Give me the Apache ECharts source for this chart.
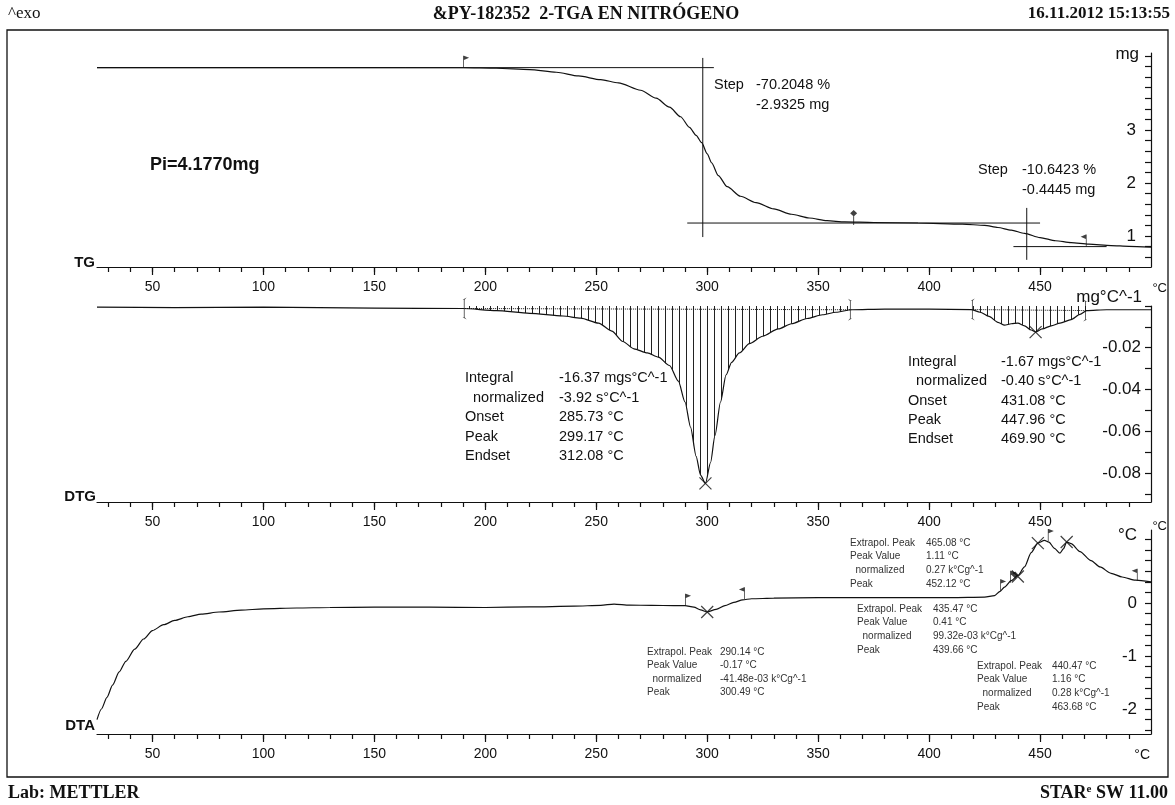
<!DOCTYPE html>
<html><head><meta charset="utf-8">
<script src="https://cdn.jsdelivr.net/npm/echarts@6/dist/echarts.min.js"></script>
<style>html,body{margin:0;padding:0;background:#fff}#c{width:1175px;height:805px}</style>
</head><body><div id="c"></div><script>
// ---------- axes / ticks ----------
const xMajorTicks = [50,100,150,200,250,300,350,400,450];
const xMinorTicks = [30,40,50,60,70,80,90,100,110,120,130,140,150,160,170,180,190,200,210,220,230,240,250,260,270,280,290,300,310,320,330,340,350,360,370,380,390,400,410,420,430,440,450,460,470,480,490];
const tgTicks = [0.6,0.8,1,1.2,1.4,1.6,1.8,2,2.2,2.4,2.6,2.8,3,3.2,3.4,3.6,3.8,4,4.2,4.4];
const tgLabels = [1,2,3];
const dtgTicks = [0,-0.01,-0.02,-0.03,-0.04,-0.05,-0.06,-0.07,-0.08,-0.09];
const dtgLabels = [-0.02,-0.04,-0.06,-0.08];
const dtaTicks = [-2.4,-2.2,-2,-1.8,-1.6,-1.4,-1.2,-1,-0.8,-0.6,-0.4,-0.2,0,0.2,0.4,0.6,0.8,1,1.2];
const dtaLabels = [-2,-1,0];

// ---------- TG (mg) ----------
const tgT  = [25,100,190,205,220,232,242,252,260,270,277,283,288,292,295,297.5,300,302,305,309,315,322,330,338,346,354,362,375,395,415,425,431,437,443,450,457,464,472,482,490,500];
const tgMg = [4.177,4.177,4.175,4.165,4.14,4.09,4.02,3.95,3.89,3.75,3.60,3.43,3.25,3.05,2.90,2.76,2.55,2.38,2.14,1.93,1.75,1.63,1.51,1.41,1.34,1.29,1.265,1.255,1.245,1.225,1.20,1.16,1.11,1.05,0.97,0.91,0.875,0.845,0.82,0.805,0.79];
const tgTangents = [
  [[25,4.177],[303,4.177]],
  [[298,4.36],[298,0.98]],
  [[291,1.2445],[450,1.2445]],
  [[444,1.53],[444,0.55]],
  [[438,0.80],[480,0.80]]
];
const tgFlags = [[190,4.177]];
const tgPins = [[366,1.255]];
const tgFlagsL = [[471,0.80]];

// ---------- DTG (mg/°C) ----------
const dtgT = [25,60,100,150,190,205,220,235,243,251,257,262,267,273,278,283,287,290,292.5,295,297,299.2,301.5,303.5,306,308.5,311,314.5,319,325,332,338,345,352,358,365,380,400,419,423,427,431,434,437,440,443,446,448,451,455,459,464,468,471,480,490,500];
const dtgV = [-0.0005,-0.0008,-0.0005,-0.001,-0.0012,-0.0022,-0.0035,-0.0048,-0.0058,-0.0082,-0.012,-0.017,-0.0205,-0.0225,-0.0245,-0.0285,-0.036,-0.046,-0.058,-0.072,-0.081,-0.085,-0.075,-0.062,-0.046,-0.033,-0.027,-0.0225,-0.018,-0.0145,-0.011,-0.0085,-0.006,-0.0042,-0.003,-0.0018,-0.0015,-0.0015,-0.0017,-0.003,-0.005,-0.0078,-0.0092,-0.0085,-0.0082,-0.0095,-0.0115,-0.0125,-0.011,-0.0095,-0.0082,-0.0065,-0.004,-0.0022,-0.0018,-0.0018,-0.0018];
const dtgRanges = [[190,365],[419,471]];
const dtgPeaks = [[299.2,-0.085],[448,-0.0125]];
const dtgBrackets = [[190,-0.0012,'l'],[365,-0.0018,'r'],[419,-0.0017,'l'],[471,-0.0022,'r']];

// ---------- DTA (°C) ----------
const dtaT = [25,27,29.5,32,35,38,42,46,50,55,60,66,72,80,90,100,115,130,150,175,200,220,240,252,258,265,275,285,290,294,297,300,304,308,312,316,320,330,350,380,410,425,429.5,432,434,437,440,443,446,449,452,454,456.5,459,460.5,462,464,468,473,477,482,487,493,500];
const dtaV = [-2.2,-2.0,-1.78,-1.55,-1.3,-1.1,-0.87,-0.68,-0.52,-0.41,-0.33,-0.26,-0.21,-0.17,-0.135,-0.11,-0.095,-0.085,-0.08,-0.08,-0.085,-0.075,-0.06,-0.045,-0.02,-0.04,-0.045,-0.05,-0.05,-0.08,-0.13,-0.17,-0.12,-0.05,0.01,0.06,0.08,0.09,0.1,0.1,0.1,0.11,0.14,0.22,0.3,0.42,0.52,0.68,0.95,1.13,1.18,1.15,1.03,0.94,1.02,1.15,1.12,0.97,0.8,0.68,0.56,0.49,0.43,0.40];
const dtaPeaks = [[300,-0.17],[440,0.5],[449,1.13],[462,1.15]];
const dtaFlags = [[290,-0.05],[432,0.22],[436.5,0.38],[453.5,1.17]];
const dtaFlagsL = [[317,0.07],[494,0.42]];
const dtaDiamonds = [[438.8,0.47]];

const FONT = '"Liberation Sans", Arial, sans-serif';
const SERIF = '"Liberation Serif", "Times New Roman", serif';
const BLK = '#111';

function zip(a,b){return a.map((v,i)=>[v,b[i]]);}
const dtgPts = zip(dtgT,dtgV);

// hatch pattern
const pc = document.createElement('canvas'); pc.width = 7; pc.height = 4;
const pctx = pc.getContext('2d'); pctx.fillStyle = '#222'; pctx.fillRect(0,0,1,4);

const grids = [
  {left:97, right:24, top:53, height:214},
  {left:97, right:24, top:306, height:196},
  {left:97, right:24, top:530, height:204}
];
const xAxes = [], yAxes = [];
grids.forEach((g,i)=>{
  xAxes.push({gridIndex:i, type:'value', min:25, max:500, position:'bottom',
    axisLine:{show:true, onZero:false, lineStyle:{color:BLK, width:1.2}},
    axisTick:{show:true, length:5, customValues:xMinorTicks, lineStyle:{color:BLK, width:1.2}},
    axisLabel:{show:true, customValues:xMajorTicks, color:BLK, fontFamily:FONT, fontSize:14, margin:13},
    splitLine:{show:false}});
  xAxes.push({gridIndex:i, type:'value', min:25, max:500, position:'bottom',
    axisLine:{show:false, onZero:false},
    axisTick:{show:true, length:8, customValues:xMajorTicks, lineStyle:{color:BLK, width:1.2}},
    axisLabel:{show:false}, splitLine:{show:false}});
});
const yCfg = [
  {min:0.415, max:4.453, ticks:tgTicks, labels:tgLabels, fmt:v=>String(v), margin:15},
  {min:-0.0939, max:0, ticks:dtgTicks, labels:dtgLabels, fmt:v=>v.toFixed(2), margin:10},
  {min:-2.472, max:1.377, ticks:dtaTicks, labels:dtaLabels, fmt:v=>String(v), margin:14}
];
yCfg.forEach((c,i)=>{
  yAxes.push({gridIndex:i, type:'value', position:'right', min:c.min, max:c.max,
    axisLine:{show:true, onZero:false, lineStyle:{color:BLK, width:1.2}},
    axisTick:{show:true, inside:true, length:6, customValues:c.ticks, lineStyle:{color:BLK, width:1.2}},
    axisLabel:{show:true, inside:true, customValues:c.labels, formatter:c.fmt, color:BLK, fontFamily:FONT, fontSize:17, margin:c.margin},
    splitLine:{show:false}});
});

const lineBase = {type:'line', symbol:'none', silent:true, animation:false, smooth:0.25, smoothMonotone:'x', lineStyle:{color:BLK, width:1.2}};
const series = [];
// TG
series.push(Object.assign({}, lineBase, {xAxisIndex:0, yAxisIndex:0, data:zip(tgT,tgMg)}));
tgTangents.forEach(seg=>series.push(Object.assign({}, lineBase, {smooth:false, xAxisIndex:0, yAxisIndex:0, data:seg, lineStyle:{color:BLK, width:1}})));
// DTG hatching
dtgRanges.forEach(r=>{
  series.push({type:'line', symbol:'none', silent:true, animation:false, smooth:0.25, smoothMonotone:'x',
    xAxisIndex:2, yAxisIndex:1, data:dtgPts.filter(p=>p[0]>=r[0]&&p[0]<=r[1]),
    lineStyle:{width:0, opacity:0}, areaStyle:{origin:'end', opacity:1, color:{image:pc, repeat:'repeat'}}});
  series.push(Object.assign({}, lineBase, {smooth:false, xAxisIndex:2, yAxisIndex:1,
    data:[[r[0], dtgPts.find(p=>p[0]===r[0])[1]],[r[1], dtgPts.find(p=>p[0]===r[1])[1]]],
    lineStyle:{color:BLK, width:1, type:'dotted'}}));
});
series.push(Object.assign({}, lineBase, {xAxisIndex:2, yAxisIndex:1, data:dtgPts}));
// DTA
series.push(Object.assign({}, lineBase, {xAxisIndex:4, yAxisIndex:2, data:zip(dtaT,dtaV)}));

const X_SYM = 'path://M0,0L10,10M10,0L0,10';
const FLAG_R = 'path://M0,0L0,14L0.8,14L0.8,5L6,2.5L0.8,0Z';
const FLAG_L = 'path://M6,0L6,14L5.2,14L5.2,5L0,2.5L5.2,0Z';
function scatter(xi, yi, data, sym, size, offset, style){
  return {type:'scatter', silent:true, animation:false, xAxisIndex:xi, yAxisIndex:yi, data:data, symbol:sym, symbolSize:size, symbolOffset:offset, z:5,
    itemStyle:style || {color:BLK}};
}
const xStyle = {color:'rgba(0,0,0,0)', borderColor:BLK, borderWidth:1.2};
series.push(scatter(2,1,dtgPeaks,X_SYM,[12,12],[0,0],xStyle));
series.push(scatter(4,2,dtaPeaks,X_SYM,[12,12],[0,0],xStyle));
series.push(scatter(0,0,tgFlags,FLAG_R,[6,12],[3,-6]));
series.push(scatter(0,0,tgFlagsL,FLAG_L,[6,12],[-3,-6]));
series.push(scatter(0,0,tgPins,'path://M3,0L6,3L3,6L0,3ZM2.6,3L3.4,3L3.4,14L2.6,14Z',[7,15],[0,-5]));
series.push(scatter(4,2,dtaFlags,FLAG_R,[6,12],[3,-6]));
series.push(scatter(4,2,dtaFlagsL,FLAG_L,[6,12],[-3,-6]));
series.push(scatter(4,2,dtaDiamonds,'path://M3,0L6,3L3,6L0,3Z',[7,7],[0,-3]));
series.push(scatter(2,1,dtgBrackets.filter(b=>b[2]==='l').map(b=>[b[0],b[1]]),'path://M3,0L0,2L0.9,2L0.9,18L0,18L3,20L1.5,18L1.5,2Z',[4,22],[1.5,0]));
series.push(scatter(2,1,dtgBrackets.filter(b=>b[2]==='r').map(b=>[b[0],b[1]]),'path://M0,0L3,2L2.1,2L2.1,18L3,18L0,20L1.5,18L1.5,2Z',[4,22],[-1.5,0]));

// ---------- texts ----------
const G = [];
function txt(x,y,t,opt){
  opt = opt||{};
  G.push({type:'text', x:x, y:y, silent:true, z:10, style:{text:t, font:opt.font||('14px '+FONT), fill:opt.fill||BLK, align:opt.align||'left', verticalAlign:opt.va||'middle'}});
}
function block(xl,xv,y0,dy,labels,values,font,fill){
  labels.forEach((l,i)=>{ txt(xl,y0+i*dy,l,{font:font,fill:fill}); txt(xv,y0+i*dy,values[i],{font:font,fill:fill}); });
}
txt(8,14,'^exo',{font:'17px '+SERIF});
txt(586,14,'&PY-182352  2-TGA EN NITRÓGENO',{font:'bold 18px '+SERIF, align:'center'});
txt(1170,14,'16.11.2012 15:13:55',{font:'bold 17px '+SERIF, align:'right'});
txt(8,793,'Lab: METTLER',{font:'bold 18px '+SERIF});
G.push({type:'text', x:1168, y:793, silent:true, style:{text:'{a|STAR}{b|e}{a| SW 11.00}', align:'right', verticalAlign:'middle',
  rich:{a:{font:'bold 18px '+SERIF, fill:BLK}, b:{font:'bold 11px '+SERIF, fill:BLK, verticalAlign:'top', padding:[0,0,8,0]}}}});
txt(95,263,'TG',{font:'bold 15px '+FONT, align:'right'});
txt(96,497,'DTG',{font:'bold 15px '+FONT, align:'right'});
txt(95,726,'DTA',{font:'bold 15px '+FONT, align:'right'});
txt(1139,54,'mg',{font:'17px '+FONT, align:'right'});
txt(1142,297,'mg°C^-1',{font:'17px '+FONT, align:'right'});
txt(1167,288,'°C',{font:'13px '+FONT, align:'right'});
txt(1137,535,'°C',{font:'17px '+FONT, align:'right'});
txt(1167,526,'°C',{font:'13px '+FONT, align:'right'});
txt(1150,755,'°C',{font:'14px '+FONT, align:'right'});
txt(150,165,'Pi=4.1770mg',{font:'bold 18px '+FONT});
const SF = '14.5px '+FONT;
txt(714,85,'Step',{font:SF}); txt(756,85,'-70.2048 %',{font:SF}); txt(756,105,'-2.9325 mg',{font:SF});
txt(978,170,'Step',{font:SF}); txt(1022,170,'-10.6423 %',{font:SF}); txt(1022,190,'-0.4445 mg',{font:SF});
const dtgLab = ['Integral','  normalized','Onset','Peak','Endset'];
block(465,559,378,19.5,dtgLab,['-16.37 mgs°C^-1','-3.92 s°C^-1','285.73 °C','299.17 °C','312.08 °C'],SF);
block(908,1001,362,19.3,dtgLab,['-1.67 mgs°C^-1','-0.40 s°C^-1','431.08 °C','447.96 °C','469.90 °C'],SF);
const dtaLab = ['Extrapol. Peak','Peak Value','  normalized','Peak'];
const SM = '10px '+FONT, SC = '#333';
block(850,926,543,13.6,dtaLab,['465.08 °C','1.11 °C','0.27 k°Cg^-1','452.12 °C'],SM,SC);
block(857,933,609,13.6,dtaLab,['435.47 °C','0.41 °C','99.32e-03 k°Cg^-1','439.66 °C'],SM,SC);
block(977,1052,666,13.6,dtaLab,['440.47 °C','1.16 °C','0.28 k°Cg^-1','463.68 °C'],SM,SC);
block(647,720,652,13.4,dtaLab,['290.14 °C','-0.17 °C','-41.48e-03 k°Cg^-1','300.49 °C'],SM,SC);
// outer frame
G.push({type:'rect', shape:{x:7,y:30,width:1161,height:747}, silent:true, z:0, style:{fill:'none', stroke:BLK, lineWidth:1.3}});

const chart = echarts.init(document.getElementById('c'), null, {renderer:'canvas'});
chart.setOption({
  animation:false, backgroundColor:'#fff',
  grid: grids, xAxis: xAxes, yAxis: yAxes, series: series, graphic: G
});
</script></body></html>
